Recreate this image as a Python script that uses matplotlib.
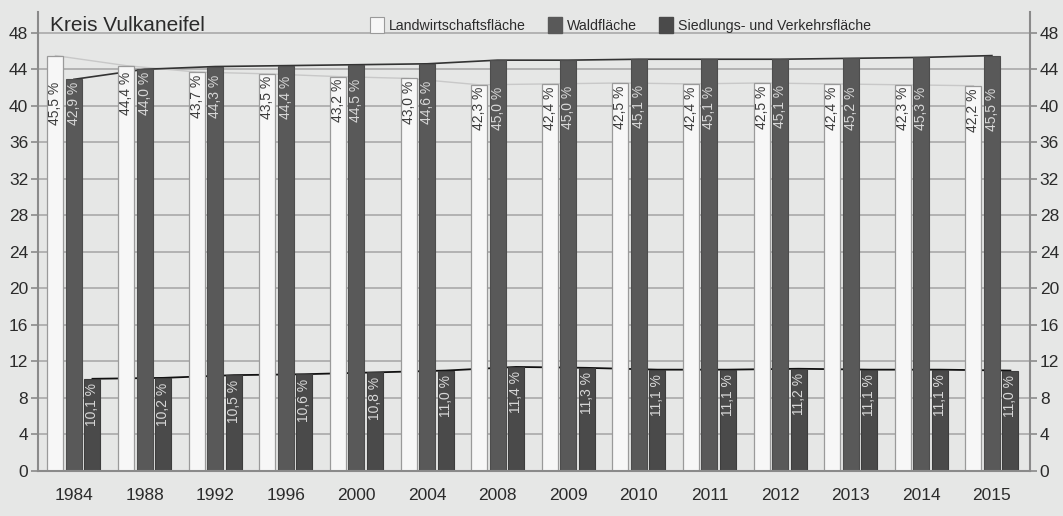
import numpy as np
import matplotlib
matplotlib.use('Agg')
import matplotlib.pyplot as plt
from matplotlib.patches import Patch

plt.rcParams['font.family'] = ['Liberation Sans', 'DejaVu Sans']

# Flächenanteile in Prozent
years = ['1984', '1988', '1992', '1996', '2000', '2004', '2008',
         '2009', '2010', '2011', '2012', '2013', '2014', '2015']
landwirtschaft = [45.5, 44.4, 43.7, 43.5, 43.2, 43.0, 42.3,
                  42.4, 42.5, 42.4, 42.5, 42.4, 42.3, 42.2]
wald = [42.9, 44.0, 44.3, 44.4, 44.5, 44.6, 45.0,
        45.0, 45.1, 45.1, 45.1, 45.2, 45.3, 45.5]
siedlung = [10.1, 10.2, 10.5, 10.6, 10.8, 11.0, 11.4,
            11.3, 11.1, 11.1, 11.2, 11.1, 11.1, 11.0]
yticks = list(range(0, 49, 4))

bg = '#e6e7e6'
c_land = '#f7f7f7'
c_wald = '#595959'
c_sied = '#4a4a4a'
grid_c = '#a9a9a9'
txt_c = '#2b2b2b'

def fmt(v):
    return f'{v:.1f} %'.replace('.', ',')

fig = plt.figure(figsize=(10.63, 5.16), dpi=100, facecolor=bg)
ax = fig.add_axes([0.0357, 0.0872, 0.9333, 0.89])
ax.set_facecolor(bg)

x = np.arange(len(years))
off = 0.262
w = 0.227

# Verbindungslinien hinter den Säulen
ax.plot(x - off, landwirtschaft, color='#c8c8c8', lw=1.0, zorder=1)
ax.plot(x, wald, color='#333333', lw=1.2, zorder=1)
ax.plot(x + off, siedlung, color='#111111', lw=1.3, zorder=1)

ax.bar(x - off, landwirtschaft, w, color=c_land, edgecolor='#9a9a9a', lw=0.9, zorder=2)
ax.bar(x, wald, w, color=c_wald, edgecolor='#4d4d4d', lw=0.8, zorder=2)
ax.bar(x + off, siedlung, w, color=c_sied, edgecolor='#3d3d3d', lw=0.8, zorder=2)

for i in range(len(years)):
    top = min(landwirtschaft[i], wald[i]) - 0.25
    ax.text(x[i] - off, top, fmt(landwirtschaft[i]), rotation=90, ha='center', va='top',
            fontsize=10, color='#3a3a3a', zorder=3)
    ax.text(x[i], top, fmt(wald[i]), rotation=90, ha='center', va='top',
            fontsize=10, color='#d8d8d8', zorder=3)
    ax.text(x[i] + off, siedlung[i] - 0.5, fmt(siedlung[i]), rotation=90, ha='center', va='top',
            fontsize=10, color='#d8d8d8', zorder=3)

ax.set_xlim(-0.51, 13.54)
ax.set_ylim(0, 50.3)
ax.set_yticks(yticks)
ax.set_xticks(x)
ax.set_xticklabels(years)
ax.yaxis.grid(True, color=grid_c, lw=1.2, zorder=0)
ax.set_axisbelow(True)

ax.tick_params(axis='y', which='both', left=True, right=True, labelleft=True, labelright=True,
               direction='out', length=5, width=1.2, color='#8a8a8a', labelsize=12.5,
               labelcolor=txt_c, pad=2)
ax.tick_params(axis='x', length=0, labelsize=12.5, labelcolor=txt_c, pad=12)

for s in ['left', 'right', 'bottom']:
    ax.spines[s].set_color('#8a8a8a')
    ax.spines[s].set_linewidth(1.5)
ax.spines['top'].set_visible(False)

ax.text(0.012, 0.99, 'Kreis Vulkaneifel', transform=ax.transAxes, fontsize=15,
        color=txt_c, ha='left', va='top')

handles = [Patch(facecolor=c_land, edgecolor='#9a9a9a', lw=0.8),
           Patch(facecolor=c_wald, edgecolor=c_wald),
           Patch(facecolor=c_sied, edgecolor=c_sied)]
ax.legend(handles, ['Landwirtschaftsfläche', 'Waldfläche', 'Siedlungs- und Verkehrsfläche'],
          ncol=3, loc='upper left', bbox_to_anchor=(0.322, 1.016), frameon=False,
          fontsize=10.2, handlelength=1.0, handleheight=1.35, handletextpad=0.3,
          columnspacing=1.6, labelcolor=txt_c)

fig.savefig('out.png', dpi=100, facecolor=bg)
